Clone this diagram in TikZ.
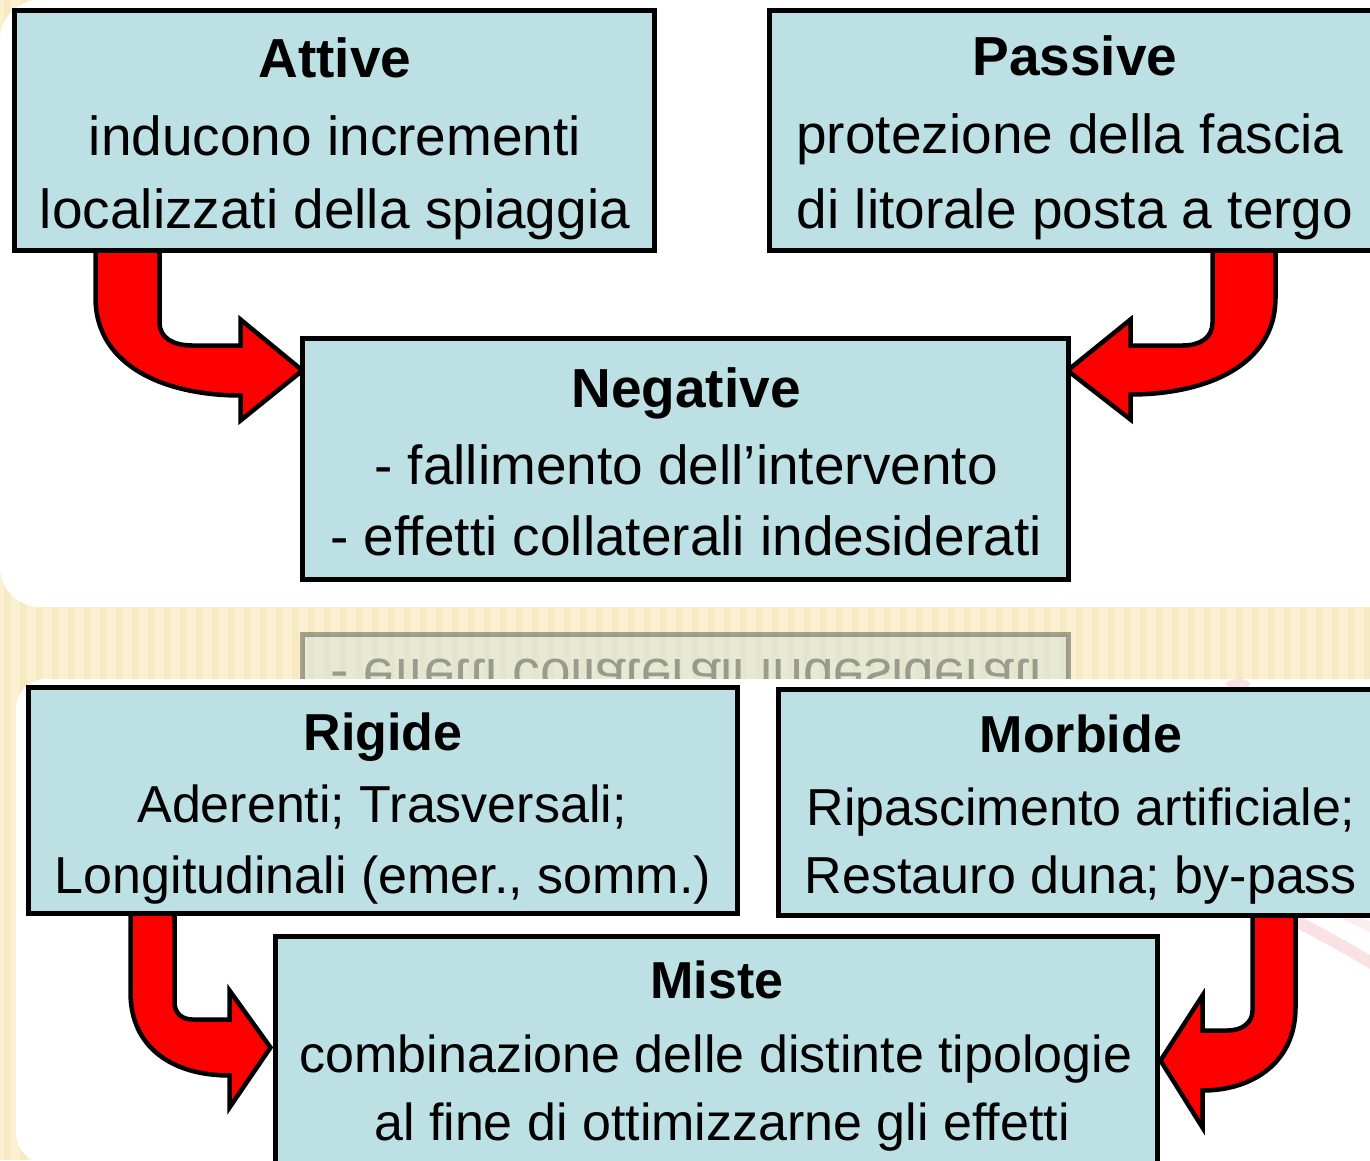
\documentclass[tikz,border=0pt]{standalone}
\usepackage{fontspec}
\setmainfont{Liberation Sans}
\usetikzlibrary{calc}
\definecolor{boxblue}{RGB}{188,224,227}
\definecolor{beige}{RGB}{251,240,207}
\definecolor{stripe}{RGB}{240,222,172}
\definecolor{pinkdeco}{RGB}{240,170,180}
\pgfdeclarelayer{back}
\pgfdeclarelayer{mid}
\pgfsetlayers{back,mid,main}
\begin{document}
\begin{tikzpicture}[x=1pt,y=-1pt,
  box/.style={draw=black, line width=5pt, fill=boxblue, inner sep=0pt, rectangle},
  ttop/.style={anchor=base, inner sep=0pt, font=\bfseries\fontsize{55}{60}\selectfont},
  btop/.style={anchor=base, inner sep=0pt, font=\fontsize{55}{60}\selectfont},
  tbot/.style={anchor=base, inner sep=0pt, font=\bfseries\fontsize{52}{58}\selectfont},
  bbot/.style={anchor=base, inner sep=0pt, font=\fontsize{52}{58}\selectfont},
  bigarrow/.style={draw=black, line width=4.5pt, fill=red, line join=miter, miter limit=10},
  panel/.style={fill=white}]
\useasboundingbox (0,0) rectangle (1370,1160);
\clip (0,0) rectangle (1370,1160);

% ---------- boxes ----------
\node[box, minimum width=640pt, minimum height=240pt] (attive) at (334.5,130.5) {};
\node[box, minimum width=613pt, minimum height=240pt] (passive) at (1076,130.5) {};
\node[box, minimum width=766pt, minimum height=241pt] (negative) at (685.5,459) {};
\node[box, minimum width=709pt, minimum height=226pt] (rigide) at (383,800.5) {};
\node[box, minimum width=605pt, minimum height=226pt] (morbide) at (1081,802.5) {};
\node[box, minimum width=882pt, minimum height=250pt] (miste) at (716.5,1061.5) {};

% ---------- texts ----------
\node[ttop] (attiveT) at (335,77) {Attive};
\node[btop] (attive1) at (335,155) {inducono incrementi};
\node[btop] (attive2) at (335,228) {localizzati della spiaggia};

\node[ttop] (passiveT) at (1075,75) {Passive};
\node[btop] (passive1) at (1070,153) {protezione della fascia};
\node[btop] (passive2) at (1075,228) {di litorale posta a tergo};

\node[ttop] (negativeT) at (686,407) {Negative};
\node[btop] (negative1) at (686,484) {- fallimento dell’intervento};
\node[btop] (negative2) at (686,555) {- effetti collaterali indesiderati};

\node[tbot] (rigideT) at (383,750) {Rigide};
\node[bbot] (rigide1) at (382,822) {Aderenti; Trasversali;};
\node[bbot] (rigide2) at (383,893) {Longitudinali (emer., somm.)};

\node[tbot] (morbideT) at (1081,752) {Morbide};
\node[bbot] (morbide1) at (1081,825) {Ripascimento artificiale;};
\node[bbot] (morbide2) at (1081,893) {Restauro duna; by-pass};

\node[tbot] (misteT) at (717,998) {Miste};
\node[bbot] (miste1) at (716,1072) {combinazione delle distinte tipologie};
\node[bbot] (miste2) at (722,1140) {al fine di ottimizzarne gli effetti};

% ---------- arrow tips on target boxes ----------
\coordinate (tipA) at ($(negative.north west)+(2.5,34.5)$);
\coordinate (tipB) at ($(negative.north east)+(-3.5,34.5)$);
\coordinate (tipC) at ($(miste.north west)+(-2.5,113.5)$);
\coordinate (tipD) at ($(miste.north east)+(0.5,126.5)$);

% ---------- background ----------
\begin{pgfonlayer}{back}
  \fill[beige] (0,0) rectangle (1370,1160);
  \foreach \i in {0,...,86}{
    \fill[stripe, opacity=0.35] (\i*16+4,0) rectangle ++(7,1160);
  }
  % faint reflection of the lower edge of the Negative box
  \begin{scope}[opacity=0.33, shift={(0,1214)}, yscale=-1]
    \node[box, minimum width=766pt, minimum height=241pt] (ghost) at (685.5,459) {};
    \node[btop, transform shape] (ghostT) at (686,555) {- effetti collaterali indesiderati};
  \end{scope}
  % panels
  \fill[panel, rounded corners=40pt] (0,0) rectangle (1420,607);
  \fill[panel, rounded corners=30pt] (16,679) rectangle (1420,1163);
  % faint pink decoration
  \draw[pinkdeco, line width=12pt, opacity=0.35, line cap=round]
    (1298,922) .. controls (1325,936) and (1350,950) .. (1380,968);
  \draw[pinkdeco, line width=10pt, opacity=0.2, line cap=round]
    (1320,902) .. controls (1340,912) and (1360,922) .. (1380,932);
  \fill[pinkdeco, opacity=0.35] (1238,684) ellipse (12pt and 5pt);
\end{pgfonlayer}

% ---------- block arrows ----------
\begin{pgfonlayer}{mid}
  \begin{scope}[shift={(tipA)}]
    \draw[bigarrow] (-207,-123) -- (-207,-73) .. controls (-207,-3) and (-135,25) .. (-62,25)
      -- (-62,50) -- (0,0) -- (-62,-51) -- (-62,-25) -- (-110,-25)
      .. controls (-130,-25) and (-143,-33) .. (-143,-48) -- (-143,-123) -- cycle;
  \end{scope}
  \begin{scope}[shift={(tipB)}]
    \draw[bigarrow] (208,-123) -- (208,-73) .. controls (208,-3) and (135,24) .. (63,24)
      -- (63,49) -- (0,0) -- (63,-51) -- (63,-25) -- (115,-25)
      .. controls (133,-25) and (145,-33) .. (145,-48) -- (145,-123) -- cycle;
  \end{scope}
  \begin{scope}[shift={(tipC)}]
    \draw[bigarrow] (-140,-136) -- (-140,-55) .. controls (-140,0) and (-98,28) .. (-41,28)
      -- (-41,60) -- (0,0) -- (-41,-57) -- (-41,-28) -- (-78,-28)
      .. controls (-89,-28) and (-96,-35) .. (-96,-45) -- (-96,-136) -- cycle;
  \end{scope}
  \begin{scope}[shift={(tipD)}]
    \draw[bigarrow] (135,-147) -- (135,-53) .. controls (135,2) and (92,30) .. (42,30)
      -- (42,67) -- (0,0) -- (42,-65) -- (42,-30) -- (67,-30)
      .. controls (82,-30) and (92,-38) .. (92,-50) -- (92,-147) -- cycle;
  \end{scope}
\end{pgfonlayer}
\end{tikzpicture}
\end{document}
